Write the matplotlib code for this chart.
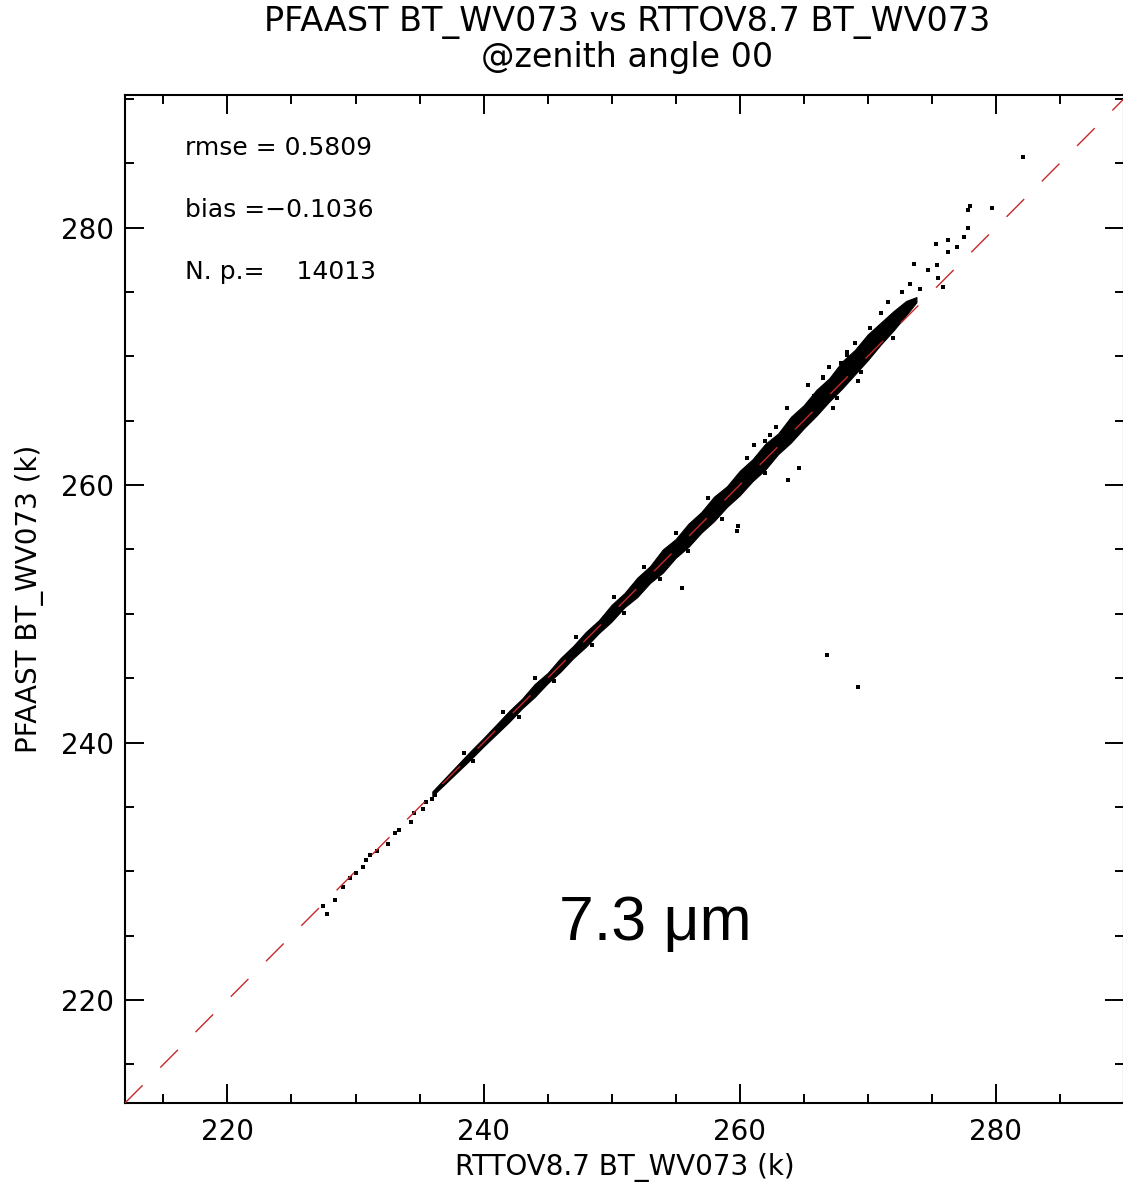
import matplotlib
matplotlib.use("Agg")
import matplotlib.pyplot as plt
from matplotlib.ticker import MultipleLocator

plt.rcParams["font.family"] = ["DejaVu Sans"]

# Axis range (K) and tick steps.
axis_min = 212
axis_max = 290
major_ticks = [220, 240, 260, 280]

# Dense core of the scatter cloud: lower and upper edge of the black band (K).
band_x = [236, 237, 238, 239, 240, 241, 242, 243, 244, 245, 246, 247, 248,
          249, 250, 251, 252, 253, 254, 255, 256, 257, 258, 259, 260, 261,
          262, 263, 264, 265, 266, 267, 268, 269, 270, 271, 272, 273, 273.8]
band_lo = [235.85, 236.8, 237.75, 238.7, 239.7, 240.65, 241.6, 242.65, 243.55,
           244.6, 245.5, 246.55, 247.45, 248.5, 249.4, 250.5, 251.3, 252.4,
           253.2, 254.35, 255.2, 256.3, 257.2, 258.3, 259.2, 260.3, 261.2,
           262.4, 263.3, 264.4, 265.4, 266.5, 267.5, 268.6, 269.7, 270.9,
           272.0, 273.2, 274.2]
band_hi = [236.2, 237.25, 238.3, 239.35, 240.35, 241.4, 242.45, 243.4, 244.55,
           245.4, 246.55, 247.5, 248.6, 249.5, 250.7, 251.6, 252.8, 253.7,
           255.0, 255.8, 257.0, 257.9, 259.1, 259.9, 261.1, 262.0, 263.2,
           264.0, 265.3, 266.2, 267.4, 268.3, 269.6, 270.5, 271.7, 272.6,
           273.5, 274.3, 274.6]

# Individual points: sparse tails, band edges and outliers (RTTOV, PFAAST).
rttov_bt = [227.5, 227.8, 228.4, 229.0, 229.6, 230.0, 230.6, 230.8, 231.1,
            231.7, 232.5, 233.1, 233.4, 234.3, 234.6, 235.3, 235.5, 236.2,
            236.0, 238.5, 239.2, 241.5, 242.8, 244.0, 245.5, 247.2, 248.5,
            250.2, 251.0, 252.5, 253.8, 255.0, 256.0, 257.5, 258.6, 259.8,
            259.9, 260.6, 261.1, 262.0, 262.8, 263.7, 263.8, 264.6, 265.3,
            265.8, 266.5, 267.0, 267.6, 268.4, 269.0, 269.5, 270.2, 271.0,
            271.6, 272.0, 272.7, 273.3, 273.6, 274.1, 274.7, 275.3, 275.4,
            275.5, 275.9, 276.3, 276.3, 277.0, 277.5, 277.8, 277.8, 278.0,
            279.7, 282.1, 255.5, 266.8, 269.2, 266.5, 267.9, 268.4, 262.4,
            262.0, 267.3, 269.2]
pfaast_bt = [227.3, 226.7, 227.8, 228.8, 229.5, 229.9, 230.3, 230.9, 231.3,
             231.6, 232.1, 233.0, 233.2, 233.8, 234.5, 234.8, 235.4, 235.9,
             235.6, 239.2, 238.6, 242.4, 242.0, 245.0, 244.8, 248.2, 247.6,
             251.3, 250.1, 253.6, 252.7, 256.3, 254.9, 259.0, 257.4, 256.4,
             256.8, 262.1, 263.1, 260.9, 264.5, 266.0, 260.4, 261.3, 267.8,
             266.9, 268.4, 269.2, 266.8, 270.3, 271.0, 268.8, 272.2, 273.4,
             274.2, 271.4, 275.0, 275.6, 277.2, 275.2, 276.7, 278.7, 277.1,
             276.1, 275.4, 279.0, 278.1, 278.5, 279.3, 280.0, 281.4, 281.7,
             281.5, 285.5, 252.0, 246.8, 244.3, 268.3, 269.5, 270.1, 263.9,
             263.4, 266.0, 268.1]

stats_lines = ["rmse = 0.5809", "bias =\u22120.1036", "N. p.=    14013"]

fig = plt.figure(figsize=(11.23, 11.90), dpi=100)
ax = fig.add_axes([0.1113, 0.0731, 0.8895, 0.8471])

ax.fill_between(band_x, band_lo, band_hi, color="black", linewidth=0.8,
                zorder=2)
ax.scatter(rttov_bt, pfaast_bt, s=6, marker="s", color="black",
           linewidths=0, zorder=3)
ax.plot([axis_min, axis_max], [axis_min, axis_max], color="#c82828",
        linewidth=1.0, dashes=(18, 18), zorder=4)

ax.set_xlim(axis_min, axis_max)
ax.set_ylim(axis_min, axis_max + 0.3)
ax.set_xticks(major_ticks)
ax.set_yticks(major_ticks)
ax.xaxis.set_minor_locator(MultipleLocator(5))
ax.yaxis.set_minor_locator(MultipleLocator(5))
ax.tick_params(which="both", direction="in", top=True, right=True,
               width=1.4, labelsize=20)
ax.tick_params(which="major", length=14)
ax.tick_params(which="minor", length=6.5)
ax.tick_params(axis="x", pad=11)
ax.tick_params(axis="y", pad=8)
for spine in ax.spines.values():
    spine.set_linewidth(1.5)

ax.set_xlabel("RTTOV8.7 BT_WV073 (k)", fontsize=20, labelpad=5)
ax.set_ylabel("PFAAST BT_WV073 (k)", fontsize=20, labelpad=12)

for i, line in enumerate(stats_lines):
    ax.text(0.060, 0.947 - i * 0.0615, line, transform=ax.transAxes,
            fontsize=18, ha="left", va="center")

ax.text(0.531, 0.178, "7.3 \u03bcm", transform=ax.transAxes,
        fontsize=45, ha="center", va="center",
        family=["Liberation Sans", "DejaVu Sans"])

fig.text(0.558, 0.9815, "PFAAST BT_WV073 vs RTTOV8.7 BT_WV073",
         fontsize=24, ha="center", va="center")
fig.text(0.558, 0.952, "@zenith angle 00", fontsize=24, ha="center",
         va="center")

fig.savefig("out.png", dpi=100, facecolor="white")
